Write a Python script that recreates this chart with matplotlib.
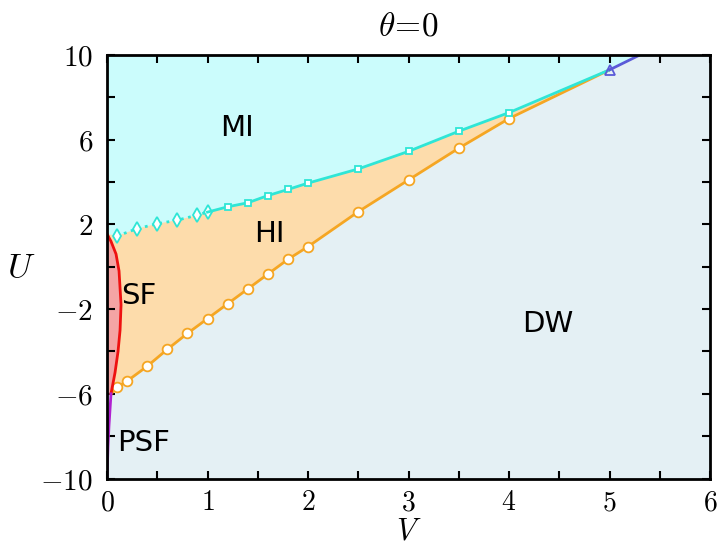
import numpy as np
import matplotlib
matplotlib.use("Agg")
import matplotlib.pyplot as plt

plt.rcParams["mathtext.fontset"] = "cm"

# === Phase boundaries ===
# HI / DW boundary (orange, circles)
hi_dw_V = [0.1, 0.2, 0.4, 0.6, 0.8, 1.0, 1.2, 1.4, 1.6, 1.8, 2.0, 2.5, 3.0, 3.5, 4.0]
hi_dw_U = [-5.7, -5.4, -4.7, -3.9, -3.15, -2.45, -1.75, -1.05, -0.35, 0.35, 0.95, 2.6, 4.1, 5.6, 7.0]

# MI / HI boundary, dotted part (diamonds) and solid part (squares)
mi_hi_dot_V = [0.1, 0.3, 0.5, 0.7, 0.9, 1.0]
mi_hi_dot_U = [1.45, 1.8, 2.03, 2.2, 2.44, 2.58]
mi_hi_V = [1.0, 1.2, 1.4, 1.6, 1.8, 2.0, 2.5, 3.0, 3.5, 4.0]
mi_hi_U = [2.58, 2.83, 3.02, 3.36, 3.65, 3.95, 4.62, 5.45, 6.4, 7.28]

# Tri-critical point and MI / DW line
tri_V = [5.0]
tri_U = [9.3]
mi_dw_V = [5.0, 5.3]
mi_dw_U = [9.3, 10.0]

# SF boundary (red) and PSF boundary (purple)
sf_V = [0.0, 0.04, 0.09, 0.12, 0.14, 0.13, 0.11, 0.08, 0.04]
sf_U = [1.55, 1.2, 0.6, -0.2, -1.8, -3.0, -4.0, -5.0, -6.0]
psf_V = [0.04, 0.02, 0.01, 0.0]
psf_U = [-6.0, -7.5, -8.5, -10.0]

# === Colors ===
c_dw = "#e4f0f4"
c_mi = "#cbfcfc"
c_hi = "#fddcab"
c_sf = "#f4a4a4"
c_orange = "#f5a623"
c_cyan = "#2ee6d6"
c_red = "#ee1111"
c_purple = "#b020d0"
c_blue = "#5a5ad8"

fig = plt.figure(figsize=(7.18, 5.5), dpi=100)
ax = fig.add_axes([0.149, 0.13, 0.84, 0.77])
ax.set_facecolor(c_dw)

# start / end of the boundaries at the SF corner and the tri-critical point
orange_V = [sf_V[-1]] + hi_dw_V + tri_V
orange_U = [sf_U[-1]] + hi_dw_U + tri_U
cyan_V = mi_hi_dot_V[:-1] + mi_hi_V + tri_V
cyan_U = mi_hi_dot_U[:-1] + mi_hi_U + tri_U

# MI region
mi_poly_V = [0.0] + cyan_V + mi_dw_V[1:] + [0.0]
mi_poly_U = [sf_U[0]] + cyan_U + mi_dw_U[1:] + [10.0]
ax.fill(mi_poly_V, mi_poly_U, color=c_mi, lw=0)

# HI region
hi_poly_V = sf_V + orange_V[1:] + cyan_V[::-1]
hi_poly_U = sf_U + orange_U[1:] + cyan_U[::-1]
ax.fill(hi_poly_V, hi_poly_U, color=c_hi, lw=0)

# SF region
ax.fill([0.0] + sf_V, [sf_U[-1]] + sf_U, color=c_sf, lw=0)

# === Boundary lines ===
ax.plot(orange_V, orange_U, color=c_orange, lw=2)
ax.plot(hi_dw_V, hi_dw_U, "o", ms=7, mfc="white", mec=c_orange, mew=1.3)

ax.plot(mi_hi_dot_V, mi_hi_dot_U, ":", color=c_cyan, lw=2)
ax.plot(mi_hi_dot_V, mi_hi_dot_U, "d", ms=7, mfc="white", mec=c_cyan, mew=1.3)
ax.plot(mi_hi_V + tri_V, mi_hi_U + tri_U, color=c_cyan, lw=2)
ax.plot(mi_hi_V[1:], mi_hi_U[1:], "s", ms=5, mfc="white", mec=c_cyan, mew=1.3)

ax.plot(mi_dw_V, mi_dw_U, color=c_blue, lw=2)
ax.plot(tri_V, tri_U, "^", ms=7, mfc="none", mec=c_blue, mew=1.3)

ax.plot(sf_V, sf_U, color=c_red, lw=2)
ax.plot(psf_V, psf_U, color=c_purple, lw=2)

# === Phase labels ===
lab_kw = dict(fontsize=21, ha="center", va="center")
ax.text(1.29, 6.56, "MI", **lab_kw)
ax.text(1.62, 1.53, "HI", **lab_kw)
ax.text(0.32, -1.36, "SF", **lab_kw)
ax.text(4.38, -2.7, "DW", **lab_kw)
ax.text(0.36, -8.3, "PSF", **lab_kw)

# === Axes ===
ax.set_xlim(0, 6)
ax.set_ylim(-10, 10)
xt = np.arange(0, 7)
ax.set_xticks(xt)
ax.set_xticklabels([f"${v}$" for v in xt], fontsize=20)
ax.set_xticks(np.arange(0.5, 6, 1), minor=True)
yt = np.arange(-10, 11, 2)
ax.set_yticks(yt)
ax.set_yticklabels([f"${v}$" if (v + 10) % 4 == 0 else "" for v in yt], fontsize=21)
ax.tick_params(which="both", direction="in", top=True, right=True, width=1.5)
ax.tick_params(which="major", length=6)
ax.tick_params(which="minor", length=6)
ax.tick_params(axis="x", pad=7)
ax.tick_params(axis="y", pad=10)
for s in ax.spines.values():
    s.set_linewidth(2)

ax.set_xlabel("$V$", fontsize=22, labelpad=0.5)
ax.set_ylabel("$U$", fontsize=25, rotation=0, labelpad=14, va="center")
ax.set_title(r"$\theta\!=\!0$", fontsize=24, pad=14)

plt.savefig("out.png", dpi=100)
